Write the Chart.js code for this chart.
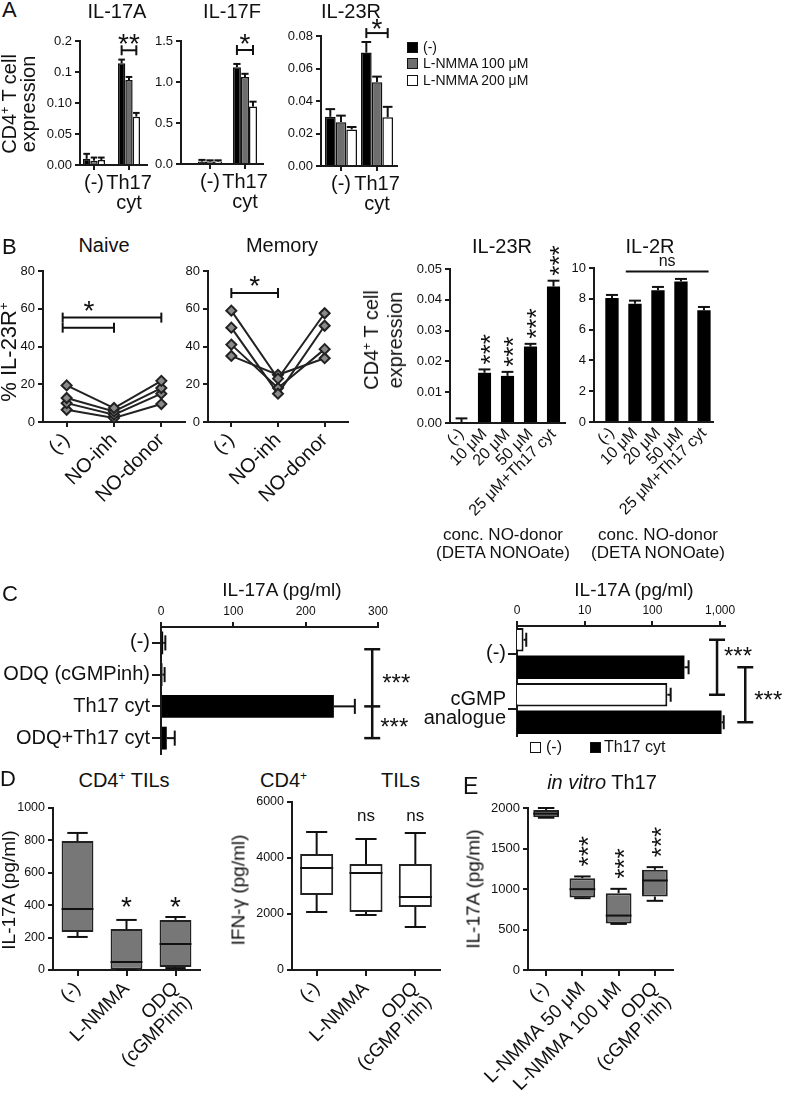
<!DOCTYPE html>
<html>
<head>
<meta charset="utf-8">
<script src="https://cdn.jsdelivr.net/npm/chart.js@4.4.0/dist/chart.umd.min.js"></script>
<style>
body { margin: 0; background: #fff; }
#fig { position: relative; width: 785px; height: 1101px; overflow: hidden; background: #fff;
  font-family: "Liberation Sans", Arial, Helvetica, sans-serif; color: #111; }
#fig canvas { position: absolute; }
.t { position: absolute; line-height: 1; white-space: pre; }
.sp { font-size: 0.6em; vertical-align: 0.6em; line-height: 0; }
.sq { position: absolute; width: 9px; height: 9px; border: 1.5px solid #111; }
</style>
</head>
<body>
<div id="fig"></div>
<script>
// ---------- data ----------
// A: qPCR, per series [(-) group, Th17 cyt group]
const aGroups = ['(-)', ['Th17', 'cyt']];
const aSeries = ['(-)', 'L-NMMA 100 μM', 'L-NMMA 200 μM'];
const il17aMean = [[0.010, 0.164], [0.007, 0.137], [0.008, 0.078]];
const il17aSem = [[0.008, 0.006], [0.005, 0.005], [0.004, 0.006]];
const il17aTicks = ['0.00', '0.05', '0.10', '0.1', '0.2'];
const il17fMean = [[0.03, 1.18], [0.03, 1.06], [0.03, 0.70]];
const il17fSem = [[0.02, 0.04], [0.015, 0.04], [0.015, 0.06]];
const il23rAMean = [[0.0303, 0.0698], [0.027, 0.0516], [0.0225, 0.030]];
const il23rASem = [[0.0047, 0.0065], [0.004, 0.0034], [0.0015, 0.0064]];

// B: % IL-23R+ per donor [(-), NO-inh, NO-donor]
const bDonorCats = ['(-)', 'NO-inh', 'NO-donor'];
const naiveDonors = [[19.4, 7.4, 21.8], [12.7, 5.6, 18], [10, 3.9, 15], [6.5, 2.1, 9.5]];
const memoryDonors = [[59, 23, 57.6], [50, 15, 51], [41, 18, 38.6], [35, 25, 33.8]];
const concCats = ['(-)', '10 μM', '20 μM', '50 μM', '25 μM+Th17 cyt'];
const il23rBMean = [0.0003, 0.0163, 0.0153, 0.0248, 0.0443];
const il23rBSem = [0.0012, 0.0011, 0.0013, 0.0009, 0.0019];
const il2rMean = [8.05, 7.68, 8.55, 9.13, 7.25];
const il2rSem = [0.2, 0.2, 0.22, 0.16, 0.22];

// C: IL-17A pg/ml
const cLeftCats = ['(-)', 'ODQ (cGMPinh)', 'Th17 cyt', 'ODQ+Th17 cyt'];
const cLeftMean = [3, 2, 239, 8];
const cLeftSem = [3, 3, 29, 11];
const cRightCats = ['(-)', ['cGMP', 'analogue']];
const cRightCtrl = [1.25, 166];
const cRightCtrlSem = [0.12, 20];
const cRightTh17 = [297, 1050];
const cRightTh17Sem = [45, 80];
const cRightTicks = [1, 10, 100, 1000];

// D, E: boxes [min, q1, median, q3, max]
const dCats = ['(-)', 'L-NMMA', ['ODQ', '(cGMPinh)']];
const dIl17a = [[204, 235, 377, 796, 846], [0, 2, 49, 253, 309], [12, 19, 160, 309, 327]];
const dCats2 = ['(-)', 'L-NMMA', ['ODQ', '(cGMP inh)']];
const dIfng = [[2071, 2679, 3643, 4143, 4929], [1964, 2071, 3464, 3786, 4679], [1536, 2250, 2607, 3786, 4893]];
const eCats = ['(-)', 'L-NMMA 50 μM', 'L-NMMA 100 μM', ['ODQ', '(cGMP inh)']];
const eIl17a = [[1880, 1885, 1930, 1975, 2000], [887, 895, 998, 1134, 1155], [569, 575, 672, 948, 1002], [854, 907, 1105, 1237, 1270]];

// ---------- helpers ----------
const fig = document.getElementById('fig');
const FONT = '"Liberation Sans", Arial, Helvetica, sans-serif';
Chart.defaults.font.family = FONT;
Chart.defaults.color = '#111';
Chart.defaults.animation = false;
const AX = '#1a1a1a';
const border = { color: AX, width: 2 };
const SUP = '<span class="sp">+</span>';

function grid(len) {
  return { display: true, drawOnChartArea: false, drawTicks: len > 0, tickLength: len, color: AX, lineWidth: 2, offset: false };
}
function fit(size) {
  return s => {
    if (s.isHorizontal()) { s.height = size; s.paddingLeft = 0; s.paddingRight = 0; }
    else { s.width = size; s.paddingTop = 0; s.paddingBottom = 0; }
  };
}
// move category centres along the axis (fractions of axis length for first and last)
function spread(d0, d1) {
  return s => {
    const n = s.ticks.length - 1;
    s._valueRange = n / (d1 - d0);
    s._startValue = -d0 * s._valueRange;
  };
}
function linScale(min, max, step, fs, fmt, size, extra) {
  return Object.assign({
    type: 'linear', min: min, max: max, border: border, grid: grid(5),
    ticks: { stepSize: step, font: { size: fs }, color: '#111', padding: 3, callback: fmt },
    afterFit: fit(size)
  }, extra || {});
}
function catScale(fs, rot, size, opt) {
  opt = opt || {};
  const sc = {
    type: 'category', offset: true, border: border, grid: grid(opt.tick === undefined ? 5 : opt.tick),
    ticks: { autoSkip: false, maxRotation: rot, minRotation: rot, font: { size: fs, lineHeight: opt.lh || 1.0 },
      color: '#111', padding: opt.pad === undefined ? 3 : opt.pad },
    afterFit: fit(size)
  };
  if (opt.spread) sc.afterBuildTicks = opt.spread;
  return sc;
}

function mk(area, o, config) {
  const L = area[0], T = area[1], R = area[2], B = area[3];
  const pb = o.pb || 0;
  const w = R - L + o.yw + o.pr;
  const h = B - T + o.pt + o.xh + pb;
  const cv = document.createElement('canvas');
  cv.width = w; cv.height = h;
  cv.style.left = (L - o.yw) + 'px';
  cv.style.top = (T - o.pt - (o.top ? o.xh : 0)) + 'px';
  cv.style.width = w + 'px'; cv.style.height = h + 'px';
  fig.appendChild(cv);
  config.options = Object.assign({
    responsive: false, maintainAspectRatio: false, devicePixelRatio: 1,
    layout: { padding: { top: o.pt, right: o.pr, left: 0, bottom: pb } }
  }, config.options);
  config.options.plugins = { legend: { display: false }, tooltip: { enabled: false } };
  return new Chart(cv, config);
}

function pen(ctx, w) { ctx.strokeStyle = '#111'; ctx.fillStyle = '#111'; ctx.lineWidth = w || 2; ctx.lineCap = 'butt'; }
function line(ctx, x1, y1, x2, y2) { ctx.beginPath(); ctx.moveTo(x1, y1); ctx.lineTo(x2, y2); ctx.stroke(); }
// y is the visual centre of the glyphs
function star(ctx, s, x, y, fs, align) {
  ctx.font = fs + 'px ' + FONT;
  ctx.textAlign = align || 'center';
  ctx.textBaseline = 'alphabetic';
  ctx.fillText(s, x, y + (s.indexOf('*') >= 0 ? 0.57 : 0.26) * fs);
}
function vstars(ctx, x, yBottom, fs) {
  ctx.save();
  ctx.translate(x, yBottom);
  ctx.rotate(-Math.PI / 2);
  ctx.font = fs + 'px ' + FONT;
  ctx.textAlign = 'left';
  ctx.textBaseline = 'alphabetic';
  ctx.fillText('***', 0, 0.57 * fs);
  ctx.restore();
}
function hBracket(ctx, x1, x2, y, cap) {
  line(ctx, x1, y, x2, y);
  line(ctx, x1, y - cap, x1, y + cap);
  line(ctx, x2, y - cap, x2, y + cap);
}
function vBracket(ctx, x, y1, y2, cap) {
  line(ctx, x, y1, x, y2);
  line(ctx, x - cap, y1, x + cap, y1);
  line(ctx, x - cap, y2, x + cap, y2);
}
function errBars(c, di, sem, cap) {
  const ctx = c.ctx, horiz = c.options.indexAxis === 'y';
  const vs = horiz ? c.scales.x : c.scales.y;
  const data = c.data.datasets[di].data;
  c.getDatasetMeta(di).data.forEach((el, j) => {
    const end = vs.getPixelForValue(data[j] + sem[j]);
    const half = (horiz ? el.height : el.width) * cap;
    if (horiz) { line(ctx, el.x, el.y, end, el.y); line(ctx, end, el.y - half, end, el.y + half); }
    else { line(ctx, el.x, el.y, el.x, end); line(ctx, el.x - half, end, el.x + half, end); }
  });
}
function drawBoxes(c, boxes) {
  const ctx = c.ctx, ys = c.scales.y;
  c.getDatasetMeta(0).data.forEach((el, j) => {
    const p = boxes[j].map(v => ys.getPixelForValue(v));
    const hw = el.width / 2, cw = el.width * 0.32;
    line(ctx, el.x, p[3], el.x, p[4]); line(ctx, el.x - cw, p[4], el.x + cw, p[4]);
    line(ctx, el.x, p[1], el.x, p[0]); line(ctx, el.x - cw, p[0], el.x + cw, p[0]);
    line(ctx, el.x - hw, p[2], el.x + hw, p[2]);
  });
}

function txt(html, x, y, fs, align, extra) {
  const d = document.createElement('div');
  d.className = 't';
  d.innerHTML = html;
  d.style.fontSize = fs + 'px';
  d.style.top = (y - 0.85 * fs) + 'px';
  if (align === 'center') { d.style.left = x + 'px'; d.style.transform = 'translateX(-50%)'; }
  else if (align === 'right') { d.style.right = (785 - x) + 'px'; }
  else d.style.left = x + 'px';
  if (extra) Object.assign(d.style, extra);
  fig.appendChild(d);
}
function vtxt(html, cx, cy, fs, lh) {
  const d = document.createElement('div');
  d.className = 't';
  d.innerHTML = html;
  d.style.fontSize = fs + 'px';
  d.style.lineHeight = (lh || fs) + 'px';
  d.style.textAlign = 'center';
  d.style.left = cx + 'px';
  d.style.top = cy + 'px';
  d.style.transform = 'translate(-50%, -50%) rotate(-90deg)';
  fig.appendChild(d);
}

// ---------- A ----------
const aFill = ['#000', '#6e6e6e', '#fff'];
function aBars(means, catPct) {
  return aSeries.map((s, i) => ({ label: s, data: means[i], backgroundColor: aFill[i], borderColor: '#111',
    borderWidth: 1.5, barPercentage: 1, categoryPercentage: catPct }));
}
function aPlugin(sems, bracketVal, starText, gap) {
  return { id: 'aExtra', afterDatasetsDraw(c) {
    const ctx = c.ctx;
    ctx.save(); pen(ctx, 2);
    sems.forEach((sem, i) => errBars(c, i, sem, 0.45));
    const x1 = c.getDatasetMeta(0).data[1].x, x2 = c.getDatasetMeta(2).data[1].x;
    const y = c.scales.y.getPixelForValue(bracketVal);
    hBracket(ctx, x1, x2, y, 5);
    star(ctx, starText, (x1 + x2) / 2, y - gap, 28);
    ctx.restore();
  } };
}
mk([80, 41, 147, 165], { yw: 50, xh: 60, pt: 40, pr: 6 }, {
  type: 'bar',
  data: { labels: aGroups, datasets: aBars(il17aMean, 0.63) },
  options: { scales: {
    x: catScale(20, 0, 60, { spread: spread(0.209, 0.731) }),
    y: linScale(0, 0.2, 0.05, 13, (v, i) => il17aTicks[i], 50) } },
  plugins: [aPlugin(il17aSem, 0.185, '**', 13)]
});
mk([181, 41, 263, 164], { yw: 45, xh: 60, pt: 40, pr: 6 }, {
  type: 'bar',
  data: { labels: aGroups, datasets: aBars(il17fMean, 0.69) },
  options: { scales: {
    x: catScale(20, 0, 60, { spread: spread(0.354, 0.78) }),
    y: linScale(0, 1.5, 0.5, 13, v => v.toFixed(1), 45) } },
  plugins: [aPlugin(il17fSem, 1.39, '*', 13)]
});
mk([321, 36, 397, 166], { yw: 45, xh: 60, pt: 36, pr: 6 }, {
  type: 'bar',
  data: { labels: aGroups, datasets: aBars(il23rAMean, 0.89) },
  options: { scales: {
    x: catScale(20, 0, 60, { spread: spread(0.263, 0.737) }),
    y: linScale(0, 0.08, 0.02, 13, v => v.toFixed(2), 45) } },
  plugins: [aPlugin(il23rASem, 0.0818, '*', 11)]
});

// ---------- B ----------
function donorSets(donors) {
  return donors.map(d => ({ data: d, borderColor: '#222', borderWidth: 2, tension: 0, fill: false,
    pointStyle: 'rectRot', pointRadius: 5, pointBackgroundColor: '#8a8a8a', pointBorderColor: '#222', pointBorderWidth: 2 }));
}
mk([43, 271, 185, 422], { yw: 40, xh: 110, pt: 10, pr: 8 }, {
  type: 'line',
  data: { labels: bDonorCats, datasets: donorSets(naiveDonors) },
  options: { scales: {
    x: catScale(20, 45, 110),
    y: linScale(0, 80, 20, 13, v => v, 40) } },
  plugins: [{ id: 'naive', afterDatasetsDraw(c) {
    const ctx = c.ctx, xs = c.scales.x, ys = c.scales.y;
    ctx.save(); pen(ctx, 2);
    hBracket(ctx, xs.getPixelForValue(0) - 4, xs.getPixelForValue(2), ys.getPixelForValue(55.3), 5);
    hBracket(ctx, xs.getPixelForValue(0) - 4, xs.getPixelForValue(1), ys.getPixelForValue(50), 5);
    star(ctx, '*', xs.getPixelForValue(0.47), ys.getPixelForValue(62.5), 28);
    ctx.restore();
  } }]
});
mk([208, 271, 348, 422], { yw: 40, xh: 110, pt: 10, pr: 8 }, {
  type: 'line',
  data: { labels: bDonorCats, datasets: donorSets(memoryDonors) },
  options: { scales: {
    x: catScale(20, 45, 110),
    y: linScale(0, 80, 20, 13, v => v, 40) } },
  plugins: [{ id: 'memory', afterDatasetsDraw(c) {
    const ctx = c.ctx, xs = c.scales.x, ys = c.scales.y;
    ctx.save(); pen(ctx, 2);
    hBracket(ctx, xs.getPixelForValue(0), xs.getPixelForValue(1), ys.getPixelForValue(68.3), 5);
    star(ctx, '*', xs.getPixelForValue(0.5), ys.getPixelForValue(75.8), 28);
    ctx.restore();
  } }]
});
mk([450, 269, 565, 423], { yw: 50, xh: 140, pt: 30, pr: 6 }, {
  type: 'bar',
  data: { labels: concCats, datasets: [{ data: il23rBMean, backgroundColor: '#000', barPercentage: 0.57, categoryPercentage: 1 }] },
  options: { scales: {
    x: catScale(16, 45, 140, { tick: 0 }),
    y: linScale(0, 0.05, 0.01, 13, v => v.toFixed(2), 50) } },
  plugins: [{ id: 'b23', afterDatasetsDraw(c) {
    const ctx = c.ctx, ys = c.scales.y;
    ctx.save(); pen(ctx, 2);
    errBars(c, 0, il23rBSem, 0.45);
    c.getDatasetMeta(0).data.forEach((el, j) => {
      if (j > 0) vstars(ctx, el.x, ys.getPixelForValue(il23rBMean[j] + il23rBSem[j]) - 5, 26);
    });
    ctx.restore();
  } }]
});
mk([594, 268, 713, 422], { yw: 40, xh: 140, pt: 30, pr: 8 }, {
  type: 'bar',
  data: { labels: concCats, datasets: [{ data: il2rMean, backgroundColor: '#000', barPercentage: 0.58, categoryPercentage: 1 }] },
  options: { scales: {
    x: catScale(16, 45, 140, { tick: 0, spread: spread(0.151, 0.924) }),
    y: linScale(0, 10, 2, 13, v => v, 40) } },
  plugins: [{ id: 'b2r', afterDatasetsDraw(c) {
    const ctx = c.ctx, xs = c.scales.x, ys = c.scales.y;
    ctx.save(); pen(ctx, 2);
    errBars(c, 0, il2rSem, 0.45);
    const x1 = xs.getPixelForValue(0.6), x2 = xs.getPixelForValue(4.2);
    line(ctx, x1, ys.getPixelForValue(9.78), x2, ys.getPixelForValue(9.78));
    star(ctx, 'ns', (x1 + x2) / 2, ys.getPixelForValue(10.4), 16);
    ctx.restore();
  } }]
});

// ---------- C ----------
mk([161, 627, 378, 754], { yw: 170, xh: 40, pt: 0, pr: 60, pb: 6, top: true }, {
  type: 'bar',
  data: { labels: cLeftCats, datasets: [{ data: cLeftMean, backgroundColor: '#000', barPercentage: 0.72, categoryPercentage: 1 }] },
  options: { indexAxis: 'y', scales: {
    x: linScale(0, 300, 100, 12, v => v, 40, { position: 'top' }),
    y: catScale(20, 0, 170, { tick: 9, pad: 2 }) } },
  plugins: [{ id: 'cl', afterDatasetsDraw(c) {
    const ctx = c.ctx, xs = c.scales.x, ys = c.scales.y;
    ctx.save(); pen(ctx, 2);
    errBars(c, 0, cLeftSem, 0.33);
    ctx.lineWidth = 2.5;
    const bx = xs.getPixelForValue(292);
    const yA = ys.getPixelForValue(0.2), yB = ys.getPixelForValue(2), yC = ys.getPixelForValue(3);
    line(ctx, bx, yA, bx, yC);
    line(ctx, bx - 8, yA, bx + 8, yA);
    line(ctx, bx - 8, yB, bx + 8, yB);
    line(ctx, bx - 8, yC, bx + 8, yC);
    star(ctx, '***', bx + 10, ys.getPixelForValue(1.1), 24, 'left');
    star(ctx, '***', bx + 8, ys.getPixelForValue(2.47), 24, 'left');
    ctx.restore();
  } }]
});
mk([517, 626, 725, 736], { yw: 125, xh: 40, pt: 0, pr: 62, pb: 6, top: true }, {
  type: 'bar',
  data: { labels: cRightCats, datasets: [
    { data: cRightCtrl, backgroundColor: '#fff', borderColor: '#111', borderWidth: 2, barPercentage: 0.85, categoryPercentage: 1 },
    { data: cRightTh17, backgroundColor: '#000', barPercentage: 0.85, categoryPercentage: 1 }] },
  options: { indexAxis: 'y', scales: {
    x: { type: 'logarithmic', position: 'top', min: 1, max: 1180, border: border, grid: grid(5),
      afterBuildTicks: s => { s.ticks = cRightTicks.map(v => ({ value: v })); },
      ticks: { font: { size: 12 }, color: '#111', padding: 3, callback: v => v === 1 ? '0' : v.toLocaleString('en-US') },
      afterFit: fit(40) },
    y: catScale(20, 0, 125, { tick: 9, pad: 2, lh: 0.95 }) } },
  plugins: [{ id: 'cr', afterDatasetsDraw(c) {
    const ctx = c.ctx, xs = c.scales.x, ys = c.scales.y;
    ctx.save(); pen(ctx, 2);
    errBars(c, 0, cRightCtrlSem, 0.3);
    errBars(c, 1, cRightTh17Sem, 0.3);
    ctx.lineWidth = 2.5;
    const m0 = c.getDatasetMeta(0).data, m1 = c.getDatasetMeta(1).data;
    const b1 = xs.getPixelForValue(900), b2 = xs.getPixelForValue(2350);
    vBracket(ctx, b1, m0[0].y, m0[1].y, 8);
    vBracket(ctx, b2, m1[0].y, m1[1].y, 8);
    star(ctx, '***', b1 + 7, ys.getPixelForValue(0) - 3, 24, 'left');
    star(ctx, '***', b2 + 9, (m1[0].y + m1[1].y) / 2, 24, 'left');
    ctx.restore();
  } }]
});

// ---------- D, E ----------
function boxSet(boxes, fill, pct) {
  return [{ data: boxes.map(b => [b[1], b[3]]), backgroundColor: fill, borderColor: '#222', borderWidth: 2,
    borderSkipped: false, barPercentage: pct, categoryPercentage: 1 }];
}
mk([53, 808, 200, 970], { yw: 50, xh: 130, pt: 10, pr: 8 }, {
  type: 'bar',
  data: { labels: dCats, datasets: boxSet(dIl17a, '#777', 0.65) },
  options: { scales: {
    x: catScale(19, 45, 130, { tick: 6 }),
    y: linScale(0, 1000, 200, 12.5, v => v, 50) } },
  plugins: [{ id: 'dl', afterDatasetsDraw(c) {
    const ctx = c.ctx, xs = c.scales.x, ys = c.scales.y;
    ctx.save(); pen(ctx, 2);
    drawBoxes(c, dIl17a);
    star(ctx, '*', xs.getPixelForValue(1), ys.getPixelForValue(432), 28);
    star(ctx, '*', xs.getPixelForValue(2), ys.getPixelForValue(432), 28);
    ctx.restore();
  } }]
});
mk([292, 802, 440, 970], { yw: 50, xh: 130, pt: 10, pr: 8 }, {
  type: 'bar',
  data: { labels: dCats2, datasets: boxSet(dIfng, '#fff', 0.67) },
  options: { scales: {
    x: catScale(19, 45, 130, { tick: 6 }),
    y: linScale(0, 6000, 2000, 12.5, v => v, 50) } },
  plugins: [{ id: 'dm', afterDatasetsDraw(c) {
    const ctx = c.ctx, xs = c.scales.x, ys = c.scales.y;
    ctx.save(); pen(ctx, 2);
    drawBoxes(c, dIfng);
    star(ctx, 'ns', xs.getPixelForValue(1), ys.getPixelForValue(5464), 17);
    star(ctx, 'ns', xs.getPixelForValue(2), ys.getPixelForValue(5464), 17);
    ctx.restore();
  } }]
});
mk([528, 808, 673, 970], { yw: 50, xh: 140, pt: 10, pr: 8 }, {
  type: 'bar',
  data: { labels: eCats, datasets: boxSet(eIl17a, '#777', 0.71) },
  options: { scales: {
    x: catScale(19, 45, 140, { tick: 6 }),
    y: linScale(0, 2000, 500, 13, v => v, 50) } },
  plugins: [{ id: 'e', afterDatasetsDraw(c) {
    const ctx = c.ctx, ys = c.scales.y;
    ctx.save(); pen(ctx, 2);
    drawBoxes(c, eIl17a);
    c.getDatasetMeta(0).data.forEach((el, j) => {
      if (j > 0) vstars(ctx, el.x, ys.getPixelForValue(eIl17a[j][4]) - 10, 26);
    });
    ctx.restore();
  } }]
});

// ---------- text ----------
txt('A', 2, 18, 22);
txt('IL-17A', 117, 18, 20, 'center');
txt('IL-17F', 232, 18, 20, 'center');
txt('IL-23R', 351, 18, 20, 'center');
vtxt('CD4' + SUP + ' T cell<br>expression', 19, 104, 20, 19);
// legend A
const legA = [['#000', 52], ['#6e6e6e', 68], ['#fff', 85]];
legA.forEach((l, i) => {
  const s = document.createElement('div');
  s.className = 'sq';
  s.style.left = '407px'; s.style.top = (l[1] - 10) + 'px'; s.style.background = l[0];
  fig.appendChild(s);
  txt(aSeries[i], 423, l[1], 14);
});

txt('B', 2, 255, 22);
txt('Naive', 104, 252, 20, 'center');
txt('Memory', 282, 252, 20, 'center');
vtxt('% IL-23R' + SUP, 9, 352, 22);
txt('IL-23R', 502, 253, 20, 'center');
txt('IL-2R', 650, 253, 20, 'center');
vtxt('CD4' + SUP + ' T cell<br>expression', 383, 340, 20, 24);
txt('conc. NO-donor', 503, 540, 17, 'center');
txt('(DETA NONOate)', 503, 558, 17, 'center');
txt('conc. NO-donor', 658, 540, 17, 'center');
txt('(DETA NONOate)', 658, 558, 17, 'center');

txt('C', 2, 602, 22);
txt('IL-17A (pg/ml)', 282, 596, 19, 'center');
txt('IL-17A (pg/ml)', 634, 596, 19, 'center');
const legC = [['#fff', 530, '(-)', 546], ['#000', 590, 'Th17 cyt', 604]];
legC.forEach(l => {
  const s = document.createElement('div');
  s.className = 'sq';
  s.style.left = l[1] + 'px'; s.style.top = '742px'; s.style.background = l[0];
  fig.appendChild(s);
  txt(l[2], l[3], 753, 16);
});

txt('D', 0, 787, 22);
txt('CD4' + SUP + ' TILs', 124, 787, 20, 'center');
txt('CD4' + SUP, 260, 787, 20);
txt('TILs', 420, 787, 20, 'right');
vtxt('IL-17A (pg/ml)', 8, 890, 19);
vtxt('IFN-γ (pg/ml)', 238, 890, 19);

txt('E', 463, 795, 23);
txt('<i>in vitro</i> Th17', 602, 789, 20, 'center');
vtxt('IL-17A (pg/ml)', 473, 889, 19);
</script>
</body>
</html>
